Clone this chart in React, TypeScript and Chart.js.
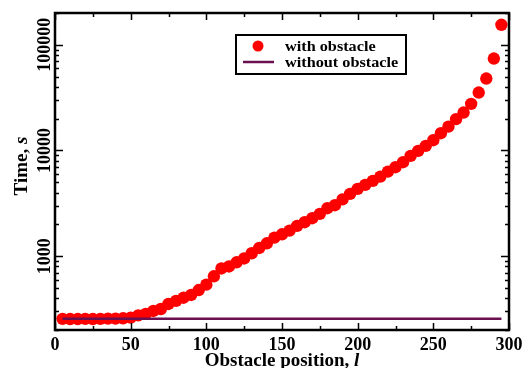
import React, { useEffect, useRef } from "react";
import { Chart, registerables } from "chart.js";

Chart.register(...registerables);

const positions = [5, 10, 15, 20, 25, 30, 35, 40, 45, 50, 55, 60, 65, 70, 75, 80, 85, 90, 95, 100,
  105, 110, 115, 120, 125, 130, 135, 140, 145, 150, 155, 160, 165, 170, 175, 180, 185, 190, 195, 200,
  205, 210, 215, 220, 225, 230, 235, 240, 245, 250, 255, 260, 265, 270, 275, 280, 285, 290, 295];

const timeWithObstacle = [255, 254, 254, 255, 254, 255, 256, 256, 258, 262, 275, 284, 303, 316, 353, 377, 404, 429, 478, 537,
  645, 765, 799, 875, 951, 1065, 1195, 1324, 1496, 1611, 1743, 1932, 2094, 2284, 2510, 2842, 3034, 3442, 3882, 4329,
  4722, 5152, 5660, 6310, 6946, 7746, 8888, 9910, 11048, 12506, 14576, 16832, 19780, 22840, 27620, 35320, 47960, 74140, 154600];

const noObstaclePositions = [5, 295];
const timeWithoutObstacle = [255, 255];

const xTickLabels = [0, 50, 100, 150, 200, 250, 300];
const xMinorTicks = [25, 75, 125, 175, 225, 275];
const yTickLabels = [1000, 10000, 100000];

const seriesNames = ["with obstacle", "without obstacle"];
const axisTitles = { x: ["Obstacle position, ", "l"], y: ["Time, ", "s"] };

const FONT = "'Liberation Serif', 'Times New Roman', serif";

const framePlugin = {
  id: "frame",
  afterDraw(chart: any) {
    const ctx = chart.ctx as CanvasRenderingContext2D;
    const { left, right, top, bottom } = chart.chartArea;
    const xs = chart.scales.x;
    const ys = chart.scales.y;
    ctx.save();
    ctx.strokeStyle = "#000";
    ctx.fillStyle = "#000";

    // ticks (inward)
    ctx.lineWidth = 1.5;
    const vtick = (v: number, len: number) => {
      const px = Math.round(xs.getPixelForValue(v)) + 0.5;
      ctx.beginPath();
      ctx.moveTo(px, bottom);
      ctx.lineTo(px, bottom - len);
      ctx.moveTo(px, top);
      ctx.lineTo(px, top + len);
      ctx.stroke();
    };
    xTickLabels.forEach((v) => vtick(v, 7));
    xMinorTicks.forEach((v) => vtick(v, 4));
    const htick = (v: number, len: number) => {
      const py = Math.round(ys.getPixelForValue(v)) + 0.5;
      ctx.beginPath();
      ctx.moveTo(left, py);
      ctx.lineTo(left + len, py);
      ctx.moveTo(right, py);
      ctx.lineTo(right - len, py);
      ctx.stroke();
    };
    for (let k = 2; k <= 5; k++) {
      for (let m = 1; m <= 9; m++) {
        const v = m * Math.pow(10, k);
        if (v < ys.min || v > ys.max) continue;
        htick(v, m === 1 ? 8 : 4);
      }
    }

    // border
    ctx.lineWidth = 2.5;
    ctx.strokeRect(left, top, right - left, bottom - top);

    // x tick labels
    ctx.font = `bold 18px ${FONT}`;
    ctx.textAlign = "center";
    ctx.textBaseline = "alphabetic";
    xTickLabels.forEach((v) => {
      ctx.fillText(String(v), xs.getPixelForValue(v), 349.5);
    });

    // y tick labels (rotated)
    yTickLabels.forEach((v) => {
      ctx.save();
      ctx.translate(left - 5, ys.getPixelForValue(v));
      ctx.rotate(-Math.PI / 2);
      ctx.fillText(String(v), 0, 0);
      ctx.restore();
    });

    // mixed-style titles
    const drawMixed = (parts: string[], cx: number, cy: number, rot: number) => {
      ctx.save();
      ctx.translate(cx, cy);
      ctx.rotate(rot);
      ctx.textAlign = "left";
      const f1 = `bold 19px ${FONT}`;
      const f2 = `italic bold 19px ${FONT}`;
      ctx.font = f1;
      const w1 = ctx.measureText(parts[0]).width;
      ctx.font = f2;
      const w2 = ctx.measureText(parts[1]).width;
      const start = -(w1 + w2) / 2;
      ctx.font = f1;
      ctx.fillText(parts[0], start, 0);
      ctx.font = f2;
      ctx.fillText(parts[1], start + w1, 0);
      ctx.restore();
    };
    drawMixed(axisTitles.x, (left + right) / 2, 366, 0);
    drawMixed(axisTitles.y, 27, 166, -Math.PI / 2);

    // legend
    const ds0 = chart.data.datasets[0];
    const ds1 = chart.data.datasets[1];
    ctx.fillStyle = "#fff";
    ctx.fillRect(236, 35, 170, 39);
    ctx.lineWidth = 2;
    ctx.strokeStyle = "#000";
    ctx.strokeRect(236, 35, 170, 39);
    ctx.fillStyle = ds0.backgroundColor;
    ctx.beginPath();
    ctx.arc(258, 46, 5.5, 0, Math.PI * 2);
    ctx.fill();
    ctx.strokeStyle = ds1.borderColor;
    ctx.lineWidth = ds1.borderWidth;
    ctx.beginPath();
    ctx.moveTo(243, 62);
    ctx.lineTo(274, 62);
    ctx.stroke();
    ctx.fillStyle = "#000";
    ctx.font = `bold 14.5px ${FONT}`;
    ctx.textAlign = "left";
    const sx = 1.12;
    ctx.save();
    ctx.translate(285, 0);
    ctx.scale(sx, 1);
    ctx.fillText(ds0.label, 0, 50.5);
    ctx.fillText(ds1.label, 0, 67);
    ctx.restore();

    ctx.restore();
  },
};

export default function App() {
  const ref = useRef<HTMLCanvasElement | null>(null);
  useEffect(() => {
    document.body.style.margin = "0";
    const canvas = ref.current;
    if (!canvas) return;
    const chart = new Chart(canvas, {
      type: "scatter",
      data: {
        datasets: [
          {
            label: seriesNames[0],
            data: positions.map((x, i) => ({ x, y: timeWithObstacle[i] })),
            backgroundColor: "#ff0000",
            borderColor: "#ff0000",
            pointRadius: 6.2,
            pointBorderWidth: 0,
            showLine: false,
            order: 1,
          },
          {
            label: seriesNames[1],
            data: noObstaclePositions.map((x, i) => ({ x, y: timeWithoutObstacle[i] })),
            borderColor: "#6a0f4f",
            backgroundColor: "#6a0f4f",
            borderWidth: 2.5,
            pointRadius: 0,
            showLine: true,
            order: 0,
          },
        ],
      },
      options: {
        responsive: false,
        animation: false,
        layout: { padding: { top: 13, right: 15, left: 0, bottom: 0 } },
        plugins: { legend: { display: false }, tooltip: { enabled: false } },
        scales: {
          x: {
            type: "linear",
            min: 0,
            max: 300,
            grid: { display: false },
            border: { display: false },
            ticks: { display: false },
            afterFit: (s: any) => { s.height = 38; },
          },
          y: {
            type: "logarithmic",
            min: 200,
            max: 200000,
            grid: { display: false },
            border: { display: false },
            ticks: { display: false },
            afterFit: (s: any) => { s.width = 55; },
          },
        },
      },
      plugins: [framePlugin],
    } as any);
    return () => chart.destroy();
  }, []);
  return (
    <div style={{ width: 524, height: 368, background: "#fff" }}>
      <canvas ref={ref} width={524} height={368} style={{ display: "block" }} />
    </div>
  );
}
